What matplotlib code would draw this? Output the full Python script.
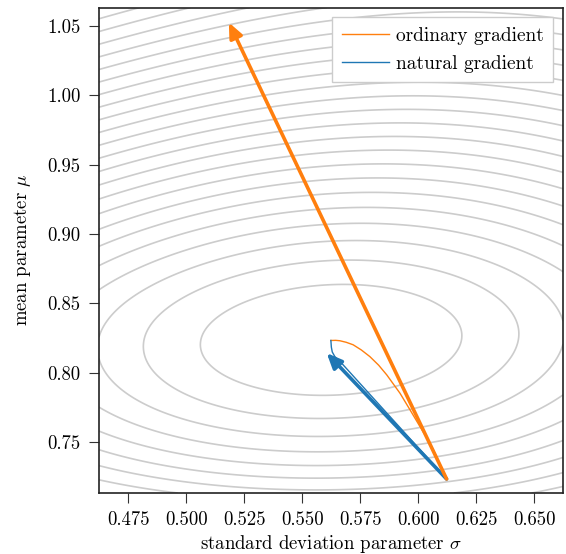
import matplotlib
matplotlib.use("Agg")
import matplotlib.pyplot as plt
import numpy as np

plt.rcParams["font.family"] = "serif"
plt.rcParams["font.serif"] = ["cmr10", "DejaVu Serif"]
plt.rcParams["mathtext.fontset"] = "cm"
plt.rcParams["axes.formatter.use_mathtext"] = True

# optimum and shape of the loss surface
opt_sigma = 0.5625
opt_mu = 0.8235
radius_sigma = 0.0562
radius_mu = 0.0402
shear = 0.114
bend = 0.49
upper_narrow = 20.0
lower_squeeze = 15.0
saturation = 16.0
n_levels = 40

# starting point and gradient steps
start_sigma = 0.6123
start_mu = 0.7235
ordinary_tip = (0.5184, 1.0524)
natural_tip = (0.5606, 0.8142)

# gradient flow paths
ordinary_sigma = [0.6123, 0.6095, 0.6066, 0.6038, 0.6008, 0.5965, 0.5922,
                  0.5865, 0.5830, 0.5792, 0.5755, 0.5720, 0.5690, 0.5663,
                  0.5645, 0.5624]
ordinary_mu = [0.7235, 0.7340, 0.7444, 0.7530, 0.7613, 0.7734, 0.7853,
               0.7985, 0.8055, 0.8117, 0.8165, 0.8202, 0.8220, 0.8231,
               0.8234, 0.8233]
natural_sigma = [0.6123, 0.5895, 0.5670, 0.5641, 0.5630, 0.5626, 0.5624]
natural_mu = [0.7235, 0.7655, 0.8070, 0.8117, 0.8150, 0.8185, 0.8233]

xlim = (0.4624, 0.6625)
ylim = (0.7134, 1.0632)
xticks = [0.475, 0.500, 0.525, 0.550, 0.575, 0.600, 0.625, 0.650]
yticks = [0.75, 0.80, 0.85, 0.90, 0.95, 1.00, 1.05]

ORANGE = "#ff7f0e"
BLUE = "#1f77b4"


def loss(s, m):
    d = m - opt_mu
    q_mu = (d / radius_mu) ** 2 * np.where(d < 0, 1 + lower_squeeze * d ** 2, 1.0)
    q_s = ((s - opt_sigma - shear * d - bend * d ** 2) / radius_sigma) ** 2
    q_s = q_s * np.where(d > 0, 1 + upper_narrow * d ** 2, 1.0)
    q = q_mu + q_s
    base = saturation * np.log1p(1.0 / saturation)
    return saturation * np.log1p(q / saturation) / base


fig = plt.figure(figsize=(5.66, 5.54), dpi=100)
ax = fig.add_axes([0.1749, 0.1101, 0.8198, 0.8763])

sg = np.linspace(xlim[0], xlim[1], 400)
mg = np.linspace(ylim[0], ylim[1], 400)
S, M = np.meshgrid(sg, mg)
ax.contour(S, M, loss(S, M), levels=np.arange(1, n_levels + 1),
           colors="#cccccc", linewidths=1.2, zorder=1)

ax.plot(ordinary_sigma, ordinary_mu, color=ORANGE, lw=1.0,
        label="ordinary gradient", zorder=3)
ax.plot(natural_sigma, natural_mu, color=BLUE, lw=1.0,
        label="natural gradient", zorder=3)

head = "-|>,head_length=0.5,head_width=0.22"
ax.annotate("", xy=natural_tip, xytext=(start_sigma, start_mu),
            arrowprops=dict(arrowstyle=head, color=BLUE, lw=2.6,
                            mutation_scale=18, shrinkA=0, shrinkB=0),
            zorder=4)
ax.annotate("", xy=ordinary_tip, xytext=(start_sigma, start_mu),
            arrowprops=dict(arrowstyle=head, color=ORANGE, lw=2.6,
                            mutation_scale=18, shrinkA=0, shrinkB=0),
            zorder=5)

ax.set_xlim(*xlim)
ax.set_ylim(*ylim)
ax.set_xticks(xticks)
ax.set_xticklabels([f"{v:.3f}" for v in xticks])
ax.set_yticks(yticks)
ax.set_yticklabels([f"{v:.2f}" for v in yticks])
ax.tick_params(labelsize=13.5, length=7.2, width=0.8, color="#333333", pad=6)
for sp in ax.spines.values():
    sp.set_linewidth(1.2)
    sp.set_color("#222222")

ax.set_xlabel(r"standard deviation parameter $\sigma$", fontsize=13.5, labelpad=3)
ax.set_ylabel(r"mean parameter $\mu$", fontsize=13.5, labelpad=10)

leg = ax.legend(loc="upper right", fontsize=14, fancybox=False,
                framealpha=1.0, edgecolor="#cccccc", handlelength=2.4,
                handletextpad=0.35, borderpad=0.5, borderaxespad=0.5)
leg.get_frame().set_linewidth(1.0)
leg.set_zorder(6)

fig.savefig("out.png", dpi=100)
